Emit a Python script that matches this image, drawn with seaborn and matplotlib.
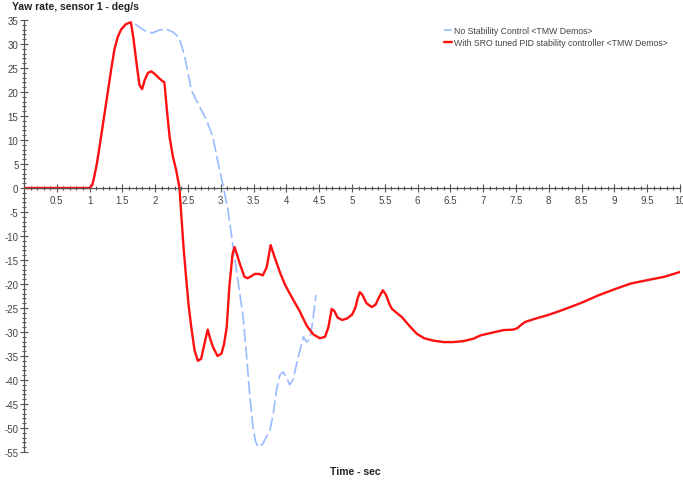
import numpy as np
import pandas as pd
import matplotlib
matplotlib.use("Agg")
import matplotlib.pyplot as plt
from matplotlib.ticker import MultipleLocator, FixedLocator
import seaborn as sns

# Yaw rate with SRO tuned PID stability controller (red)
t_pid = [0, 1.0, 1.04, 1.07, 1.11, 1.15, 1.2, 1.25, 1.33, 1.38, 1.43, 1.48, 1.55, 1.6,
         1.63, 1.67, 1.72, 1.76, 1.8, 1.84, 1.89, 1.94, 1.99, 2.05, 2.1, 2.14, 2.18,
         2.22, 2.27, 2.32, 2.35, 2.37, 2.4, 2.43, 2.47, 2.51, 2.55, 2.6, 2.65, 2.7,
         2.75, 2.8, 2.84, 2.88, 2.95, 3.01, 3.05, 3.09, 3.13, 3.18, 3.21, 3.25, 3.29,
         3.36, 3.41, 3.46, 3.52, 3.58, 3.64, 3.7, 3.76, 3.82, 3.9, 3.98, 4.08, 4.2,
         4.31, 4.41, 4.51, 4.59, 4.64, 4.69, 4.73, 4.78, 4.85, 4.92, 5.0, 5.05, 5.09,
         5.12, 5.16, 5.22, 5.3, 5.36, 5.41, 5.47, 5.52, 5.57, 5.61, 5.68, 5.76, 5.88,
         5.99, 6.1, 6.24, 6.4, 6.54, 6.7, 6.85, 6.96, 7.15, 7.31, 7.46, 7.52, 7.58,
         7.64, 7.8, 7.98, 8.15, 8.33, 8.5, 8.75, 9.0, 9.25, 9.5, 9.76, 10.0]
yaw_pid = [0, 0, 0.6, 2.3, 5, 8.5, 13, 17.5, 24.8, 29, 31.5, 33, 34.1, 34.4,
           34.5, 31, 25.5, 21.5, 20.6, 22.5, 24, 24.3, 23.8, 23, 22.4, 22, 16,
           10.6, 6.5, 3.7, 1.5, 0, -6, -12, -18.5, -24.5, -29, -33.8, -36, -35.6,
           -32.5, -29.5, -31.5, -33.1, -35, -34.5, -32.5, -29, -20.6, -13.7, -12.3, -14, -15.8,
           -18.5, -18.8, -18.4, -17.9, -17.9, -18.2, -16.5, -11.9, -14.4, -17.5, -20.2, -22.7, -25.6,
           -28.7, -30.5, -31.3, -31, -29, -25.2, -25.6, -27, -27.5, -27.2, -26.4, -25, -22.8,
           -21.7, -22.3, -24, -24.8, -24.3, -22.8, -21.3, -22.3, -24.2, -25.2, -26, -26.9, -28.8,
           -30.4, -31.3, -31.8, -32.1, -32.1, -31.9, -31.4, -30.7, -30.1, -29.6, -29.5, -29.2, -28.5,
           -27.9, -27.2, -26.5, -25.7, -24.8, -23.9, -22.4, -21.1, -19.9, -19.2, -18.5, -17.5]

# Yaw rate without stability control (blue dashed)
t_none = [0, 1.0, 1.04, 1.07, 1.11, 1.15, 1.2, 1.25, 1.33, 1.38, 1.43, 1.48, 1.55, 1.6,
          1.63, 1.7, 1.8, 1.88, 1.96, 2.06, 2.17, 2.27, 2.33, 2.37, 2.41, 2.45, 2.5,
          2.55, 2.62, 2.68, 2.78, 2.88, 2.95, 3.03, 3.11, 3.18, 3.26, 3.34, 3.39, 3.44,
          3.49, 3.53, 3.57, 3.64, 3.75, 3.8, 3.85, 3.9, 3.95, 4.0, 4.05, 4.1, 4.18,
          4.26, 4.31, 4.36, 4.41, 4.45]
yaw_none = [0, 0, 0.6, 2.3, 5, 8.5, 13, 17.5, 24.8, 29, 31.5, 33, 34.1, 34.4,
            34.5, 34.1, 33.1, 32.5, 32.3, 32.9, 33.1, 32.5, 31.8, 31, 29.3, 27.3, 24,
            20.4, 18.5, 16.9, 14.2, 10.6, 5.8, 0.8, -4.6, -11.6, -19.2, -26.9, -34.5, -42.9,
            -49.8, -52.8, -54, -53.3, -50.4, -47, -42, -39, -38.3, -39.4, -41, -40, -35.2,
            -31, -32.1, -31.4, -26.9, -22.3]

x_ticks = np.arange(0.5, 10.01, 0.5)
x_labels = ["0.5", "1", "1.5", "2", "2.5", "3", "3.5", "4", "4.5", "5", "5.5", "6",
            "6.5", "7", "7.5", "8", "8.5", "9", "9.5", "10"]
y_ticks = list(range(-55, 36, 5))

sns.set_style("white")
plt.rcParams['font.family'] = ['Liberation Sans', 'DejaVu Sans']
plt.rcParams['axes.unicode_minus'] = False

fig = plt.figure(figsize=(6.83, 4.81), dpi=100)
ax = fig.add_axes([24 / 683, 28 / 481, 656 / 683, 432 / 481])

sns.lineplot(x=t_none, y=yaw_none, ax=ax, color="#99bbff", linewidth=1.2,
             linestyle=(0, (8, 2.5)), label="No Stability Control <TMW Demos>", sort=False)
sns.lineplot(x=t_pid, y=yaw_pid, ax=ax, color="#ff1010", linewidth=1.7,
             label="With SRO tuned PID stability controller <TMW Demos>", sort=False)

ax.set_xlim(0, 10)
ax.set_ylim(-55, 35)

# axes crossing at zero
ax.spines['bottom'].set_position(('data', 0))
ax.spines['top'].set_visible(False)
ax.spines['right'].set_visible(False)
for s in ['left', 'bottom']:
    ax.spines[s].set_color("#555555")
    ax.spines[s].set_linewidth(0.9)

ax.xaxis.set_major_locator(FixedLocator(x_ticks))
ax.set_xticklabels(x_labels)
ax.xaxis.set_minor_locator(MultipleLocator(0.1))
ax.yaxis.set_major_locator(FixedLocator(y_ticks))
ax.yaxis.set_minor_locator(MultipleLocator(1))
ax.tick_params(axis='both', which='both', bottom=True, left=True)
ax.tick_params(axis='both', which='major', direction='inout', length=6, width=0.8,
               color="#555555", labelsize=7, labelcolor="#444444", pad=2)
ax.tick_params(axis='both', which='minor', direction='inout', length=3.5, width=0.8,
               color="#555555")
ax.tick_params(axis='y', pad=1)
ax.set_xlabel("")
ax.set_ylabel("")

leg = ax.legend(loc='upper left', bbox_to_anchor=(444 / 683, 1 - 27 / 481),
                bbox_transform=fig.transFigure, frameon=False, fontsize=6.3,
                handlelength=0.9, handletextpad=0.2, labelspacing=0.3,
                borderaxespad=0, borderpad=0)
for txt in leg.get_texts():
    txt.set_color("#444444")

fig.text(12 / 683, 1 - 7 / 481, "Yaw rate, sensor 1 - deg/s", fontsize=7.5,
         fontweight='bold', color="#222222", va='center', ha='left')
fig.text(355 / 683, 1 - 472 / 481, "Time - sec", fontsize=7.5,
         fontweight='bold', color="#222222", va='center', ha='center')

fig.savefig("out.png", dpi=100)
